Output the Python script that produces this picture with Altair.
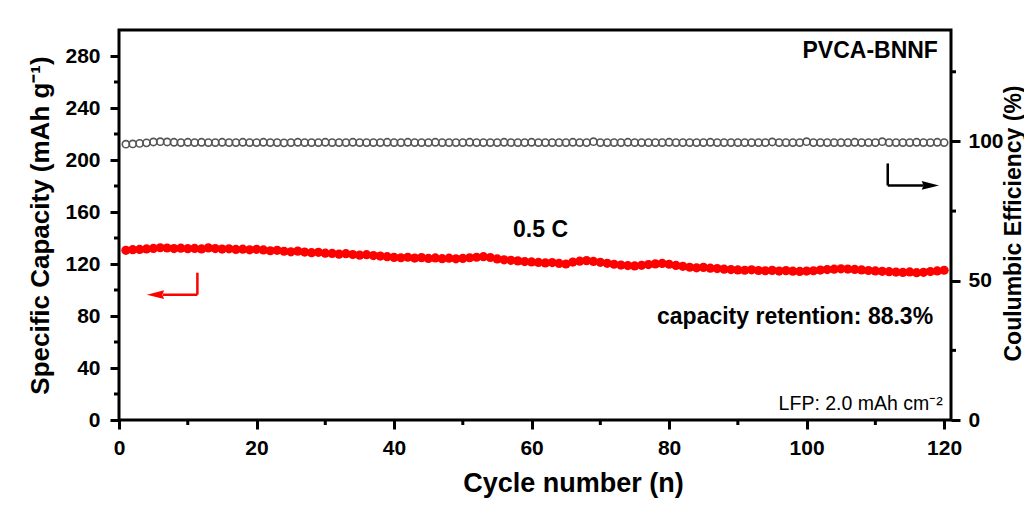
import altair as alt
import pandas as pd

FONT = "Liberation Sans"

# ---------------- data ----------------
cycles = list(range(1, 121))

capacity = [
    130.5, 131.0, 131.2, 131.6, 132.0, 132.5, 132.3, 131.9, 132.2, 131.8,
    132.0, 131.6, 132.4, 131.9, 131.5, 131.7, 131.2, 131.4, 130.9, 131.3,
    130.8, 130.2, 130.5, 129.8, 129.4, 129.9, 129.2, 128.7, 129.0, 128.3,
    128.1, 127.6, 127.9, 127.3, 126.8, 127.2, 126.5, 126.1, 125.6, 125.1,
    124.8, 125.2, 124.6, 124.9, 124.3, 124.7, 124.1, 124.5, 124.0, 124.3,
    124.8, 125.2, 125.6, 125.0, 123.9, 123.2, 122.8, 122.4, 121.9, 121.6,
    121.2, 120.8, 121.1, 120.4, 120.0, 121.5, 122.2, 122.6, 122.0, 121.3,
    120.5, 119.8, 119.2, 118.8, 118.5, 119.0, 119.6, 120.1, 120.4, 119.8,
    118.9, 118.2, 117.5, 117.1, 117.4, 116.8, 116.5, 116.0, 115.7, 115.4,
    115.2, 115.5, 115.0, 114.8, 115.1, 114.6, 114.9, 114.5, 114.3, 114.6,
    114.8, 115.3, 115.7, 116.0, 116.3, 116.1, 115.8, 115.4, 115.0, 114.7,
    114.4, 114.1, 113.8, 113.5, 113.9, 113.3, 113.6, 114.2, 114.7, 115.2,
]

efficiency = [
    99.0, 99.1, 99.3, 99.5, 99.8, 99.9, 99.8, 99.7, 99.6, 99.7,
    99.6, 99.7, 99.6, 99.6, 99.7, 99.6, 99.6, 99.7, 99.6, 99.6,
    99.7, 99.6, 99.6, 99.5, 99.6, 99.7, 99.6, 99.6, 99.6, 99.7,
    99.6, 99.6, 99.6, 99.7, 99.6, 99.6, 99.6, 99.6, 99.7, 99.6,
    99.6, 99.7, 99.6, 99.6, 99.6, 99.7, 99.6, 99.6, 99.6, 99.6,
    99.7, 99.6, 99.6, 99.6, 99.6, 99.7, 99.6, 99.6, 99.6, 99.7,
    99.6, 99.6, 99.6, 99.6, 99.6, 99.7, 99.6, 99.6, 99.9, 99.6,
    99.6, 99.6, 99.6, 99.7, 99.6, 99.6, 99.6, 99.6, 99.6, 99.7,
    99.6, 99.6, 99.6, 99.6, 99.6, 99.7, 99.6, 99.6, 99.6, 99.6,
    99.6, 99.6, 99.6, 99.6, 99.8, 99.6, 99.6, 99.6, 99.6, 99.9,
    99.6, 99.6, 99.6, 99.6, 99.6, 99.6, 99.7, 99.6, 99.6, 99.6,
    99.9, 99.6, 99.6, 99.6, 99.6, 99.7, 99.6, 99.6, 99.7, 99.6,
]

x_major = [0, 20, 40, 60, 80, 100, 120]
x_minor = [10, 30, 50, 70, 90, 110]
left_major = [0, 40, 80, 120, 160, 200, 240, 280]
left_minor = [20, 60, 100, 140, 180, 220, 260]
right_major = [0, 50, 100]
right_minor = [25, 75, 125]

# annotations (in data units)
right_texts = ["PVCA-BNNF", "capacity retention: 88.3%"]
right_text_x = [119.1, 118.4]
right_text_y = [284.0, 79.0]
center_texts = ["0.5 C"]
center_text_x = [61.3]
center_text_y = [146.0]
small_texts = ["LFP: 2.0 mAh cm⁻²"]
small_text_x = [119.8]
small_text_y = [12.5]

# red arrow (capacity units)
red_seg_x = [11.4, 11.4]
red_seg_x2 = [11.4, 6.4]
red_seg_y = [113.3, 96.4]
red_seg_y2 = [96.4, 96.4]
red_head_x = [5.3]
red_head_y = [96.4]

# black arrow (efficiency units)
blk_seg_x = [111.8, 111.8]
blk_seg_x2 = [111.8, 117.0]
blk_seg_y = [92.1, 84.2]
blk_seg_y2 = [84.2, 84.2]
blk_head_x = [118.0]
blk_head_y = [84.2]

# ---------------- frames ----------------
df = pd.DataFrame({"cycle": cycles, "capacity": capacity, "ce": efficiency})
df_rt = pd.DataFrame({"cycle": right_text_x, "capacity": right_text_y, "label": right_texts})
df_ct = pd.DataFrame({"cycle": center_text_x, "capacity": center_text_y, "label": center_texts})
df_st = pd.DataFrame({"cycle": small_text_x, "capacity": small_text_y, "label": small_texts})
df_rseg = pd.DataFrame({"cycle": red_seg_x, "cycle2": red_seg_x2, "capacity": red_seg_y, "capacity2": red_seg_y2})
df_rhead = pd.DataFrame({"cycle": red_head_x, "capacity": red_head_y})
df_bseg = pd.DataFrame({"cycle": blk_seg_x, "cycle2": blk_seg_x2, "ce": blk_seg_y, "ce2": blk_seg_y2})
df_bhead = pd.DataFrame({"cycle": blk_head_x, "ce": blk_head_y})
df_xminor = pd.DataFrame({"cycle": x_minor})
df_lminor = pd.DataFrame({"capacity": left_minor})
df_rminor = pd.DataFrame({"ce": right_minor})

W, H = 832, 390

xscale = alt.Scale(domain=[0, 121], nice=False, zero=False)
lscale = alt.Scale(domain=[0, 300], nice=False, zero=False)
rscale = alt.Scale(domain=[0, 140], nice=False, zero=False)

common_axis = dict(
    labelFont=FONT, labelFontSize=21, labelFontWeight="bold", labelColor="black",
    titleFont=FONT, titleFontWeight="bold", titleColor="black",
    tickColor="black", tickWidth=3, tickSize=9, domain=False, grid=False,
    labelOverlap=False, labelFlush=False,
)

x_axis = alt.Axis(
    title="Cycle number (n)", values=x_major,
    labelPadding=8, titleFontSize=27, titleX=454, titleY=63,
    titleAlign="center", titleBaseline="middle",
    **common_axis,
)
left_axis = alt.Axis(
    title="Specific Capacity (mAh g⁻¹)", values=left_major,
    labelPadding=10, titleFontSize=26, titleAngle=270, titleX=-79, titleY=195,
    titleAlign="center", titleBaseline="middle",
    **common_axis,
)
right_axis = alt.Axis(
    title="Coulumbic Efficiency (%)", orient="right", values=right_major,
    labelPadding=8, titleFontSize=23, titleAngle=270, titleX=62, titleY=193,
    titleAlign="center", titleBaseline="middle",
    **common_axis,
)

X = alt.X("cycle:Q", scale=xscale, axis=x_axis)
YL = alt.Y("capacity:Q", scale=lscale, axis=left_axis)
YR = alt.Y("ce:Q", scale=rscale, axis=right_axis)

red_pts = alt.Chart(df).mark_circle(size=85, color="#ff0000", opacity=1).encode(x=X, y=YL)

red_seg = alt.Chart(df_rseg).mark_rule(color="#ff0000", strokeWidth=2.5).encode(
    x=X, x2="cycle2:Q", y=YL, y2="capacity2:Q")
red_head = alt.Chart(df_rhead).mark_point(
    shape="M -1 0 L 1 -0.5 L 0.8 0 L 1 0.5 Z", filled=True, color="#ff0000", size=300, opacity=1
).encode(x=X, y=YL)

txt_right = alt.Chart(df_rt).mark_text(
    font=FONT, fontSize=23, fontWeight="bold", align="right", baseline="middle", color="black"
).encode(x=X, y=YL, text="label:N")
txt_center = alt.Chart(df_ct).mark_text(
    font=FONT, fontSize=23, fontWeight="bold", align="center", baseline="middle", color="black"
).encode(x=X, y=YL, text="label:N")
txt_small = alt.Chart(df_st).mark_text(
    font=FONT, fontSize=19.5, align="right", baseline="middle", color="black"
).encode(x=X, y=YL, text="label:N")

# minor ticks (outside the frame, placed through the scales)
x_minor_ticks = alt.Chart(df_xminor).mark_rule(color="black", strokeWidth=3).encode(
    x=X, y=alt.value(H), y2=alt.value(H + 5))
l_minor_ticks = alt.Chart(df_lminor).mark_rule(color="black", strokeWidth=3).encode(
    y=YL, x=alt.value(0), x2=alt.value(-5))

gray_pts = alt.Chart(df).mark_point(
    shape="circle", filled=False, size=52, strokeWidth=1.6, color="#555555", opacity=1
).encode(x=X, y=YR)
blk_seg = alt.Chart(df_bseg).mark_rule(color="black", strokeWidth=2.5).encode(
    x=X, x2="cycle2:Q", y=YR, y2="ce2:Q")
blk_head = alt.Chart(df_bhead).mark_point(
    shape="M 1 0 L -1 -0.5 L -0.8 0 L -1 0.5 Z", filled=True, color="black", size=300, opacity=1
).encode(x=X, y=YR)
r_minor_ticks = alt.Chart(df_rminor).mark_rule(color="black", strokeWidth=3).encode(
    y=YR, x=alt.value(W), x2=alt.value(W + 5))

left_group = alt.layer(red_pts, red_seg, red_head, txt_right, txt_center, txt_small,
                       x_minor_ticks, l_minor_ticks)
right_group = alt.layer(gray_pts, blk_seg, blk_head, r_minor_ticks)

chart = (
    alt.layer(left_group, right_group)
    .resolve_scale(y="independent")
    .properties(
        width=W, height=H,
        padding={"left": 111, "top": 22, "right": 73, "bottom": 90},
        autosize=alt.AutoSizeParams(type="none"),
        background="white",
    )
    .configure_view(stroke="black", strokeWidth=3)
)

chart.save("out.html", embed_options={"renderer": "svg", "actions": False})
